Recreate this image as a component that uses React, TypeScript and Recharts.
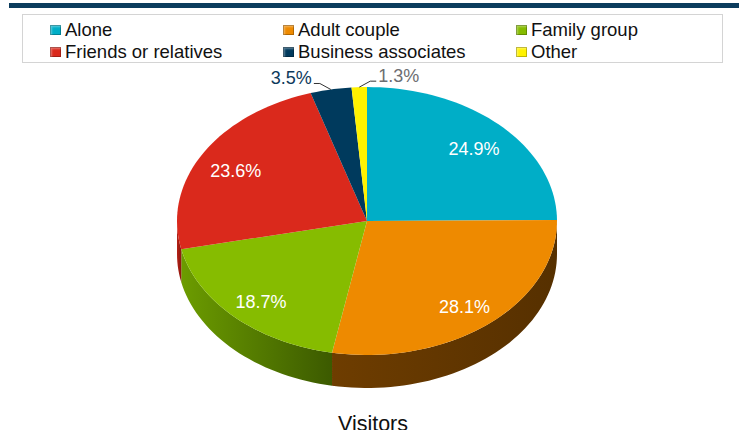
import React from "react";
import { PieChart, Pie, Cell, Legend } from "recharts";

const categories = ["Alone", "Adult couple", "Family group", "Friends or relatives", "Business associates", "Other"];
const shares = [24.9, 28.1, 18.7, 23.6, 3.5, 1.3];
const colors = ["#00AEC7", "#EE8A00", "#86BC00", "#DA291C", "#003A5D", "#FFF200"];
const sideColors = [
  ["#007f91", "#005f6c"],
  ["#6e3d00", "#563000"],
  ["#6c9c00", "#3c5a00"],
  ["#b52015", "#8a170f"],
  ["#002a44", "#001f33"],
  ["#c9bf00", "#a89f00"],
];
const outsideLabelColors = ["#fff", "#fff", "#fff", "#fff", "#0d3a5c", "#6d6e71"];

const data = categories.map((name, i) => ({ name, value: shares[i] }));

const K = 0.705; // vertical squash of the tilted pie
const DEPTH = 33;
const RAD = Math.PI / 180;

const pt = (cx: number, cy: number, r: number, a: number) => [cx + r * Math.cos(a * RAD), cy - K * r * Math.sin(a * RAD)];

const arcPoints = (cx: number, cy: number, r: number, a1: number, a2: number, dy = 0) => {
  const n = Math.max(2, Math.ceil(Math.abs(a2 - a1) / 2));
  const out: string[] = [];
  for (let i = 0; i <= n; i++) {
    const a = a1 + ((a2 - a1) * i) / n;
    const [x, y] = pt(cx, cy, r, a);
    out.push(`${x.toFixed(2)},${(y + dy).toFixed(2)}`);
  }
  return out;
};

const sliceShape = (props: any) => {
  const { cx, cy, outerRadius, startAngle, endAngle, index } = props;
  const i = index ?? 0;
  const lo = Math.min(startAngle, endAngle);
  const hi = Math.max(startAngle, endAngle);
  // visible front wall: angles between -180 and 0
  const f1 = Math.max(lo, -180);
  const f2 = Math.min(hi, 0);
  let side = null;
  if (f2 > f1) {
    const top = arcPoints(cx, cy, outerRadius, f1, f2);
    const bottom = arcPoints(cx, cy, outerRadius, f2, f1, DEPTH);
    side = <path d={`M${top.join(" L")} L${bottom.join(" L")} Z`} fill={`url(#side${i})`} />;
  }
  const face = arcPoints(cx, cy, outerRadius, startAngle, endAngle);
  return (
    <g>
      {side}
      <path d={`M${cx},${cy} L${face.join(" L")} Z`} fill={colors[i]} />
    </g>
  );
};

const renderLabel = (props: any) => {
  const { cx, cy, midAngle, outerRadius, value, index } = props;
  const text = `${Number(value).toFixed(1)}%`;
  if (value < 5) {
    const [px, py] = pt(cx, cy, outerRadius, midAngle);
    const dir = Math.cos(midAngle * RAD) >= -0.06 ? 1 : -1;
    const ex = px + dir * 11;
    const ey = py - 6;
    const hx = ex + dir * 6;
    return (
      <g>
        <polyline points={`${px},${py} ${ex},${ey} ${hx},${ey}`} fill="none" stroke="#333" strokeWidth={1} />
        <text x={hx + dir * 2} y={ey + 1} textAnchor={dir > 0 ? "start" : "end"} fill={outsideLabelColors[index]} fontSize={18}>
          {text}
        </text>
      </g>
    );
  }
  const [x, y] = pt(cx, cy, outerRadius * 0.8, midAngle);
  return (
    <text x={x} y={y + 4} textAnchor="middle" dominantBaseline="central" fill="#fff" fontSize={18}>
      {text}
    </text>
  );
};

const LegendBox = () => (
  <div
    style={{
      boxSizing: "border-box",
      width: 701,
      height: 49,
      border: "1px solid #d4d4d4",
      padding: "4px 0 0 27px",
      display: "grid",
      gridTemplateColumns: "233px 233px 200px",
      lineHeight: "22px",
      fontSize: 18.5,
      color: "#111",
    }}
  >
    {categories.map((name, i) => (
      <div key={name} style={{ display: "flex", alignItems: "center", whiteSpace: "nowrap" }}>
        <span
          style={{
            display: "inline-block",
            width: 11,
            height: 10,
            marginRight: 4,
            background: colors[i],
            boxShadow: "inset 0 0 0 1px rgba(0,0,0,0.25), inset 2px 2px 2px rgba(255,255,255,0.35)",
          }}
        />
        {name}
      </div>
    ))}
  </div>
);

export default function App() {
  return (
    <div style={{ position: "absolute", left: 0, top: 0, width: 739, height: 430, overflow: "hidden", background: "#fff", fontFamily: "'Liberation Sans', Arial, sans-serif" }}>
      <div style={{ position: "absolute", left: 9, top: 3, width: 730, height: 5, background: "#0b3c5d" }} />
      <PieChart width={739} height={430} margin={{ top: 0, right: 0, bottom: 0, left: 0 }}>
        <defs>
          {sideColors.map((c, i) => (
            <linearGradient key={i} id={`side${i}`} x1="0" y1="0" x2="1" y2="0">
              <stop offset="0%" stopColor={c[0]} />
              <stop offset="100%" stopColor={c[1]} />
            </linearGradient>
          ))}
        </defs>
        <Legend
          content={() => <LegendBox />}
          wrapperStyle={{ position: "absolute", left: 22, top: 14, width: 701, height: 49 }}
        />
        <Pie
          data={data}
          dataKey="value"
          nameKey="name"
          cx={367}
          cy={221}
          outerRadius={190}
          startAngle={90}
          endAngle={-270}
          stroke="none"
          shape={sliceShape}
          label={renderLabel}
          labelLine={false}
          isAnimationActive={false}
        >
          {data.map((d, i) => (
            <Cell key={d.name} fill={colors[i]} />
          ))}
        </Pie>
        <text x={373} y={431} textAnchor="middle" fontSize={21.5} fill="#111">
          Visitors
        </text>
      </PieChart>
    </div>
  );
}
